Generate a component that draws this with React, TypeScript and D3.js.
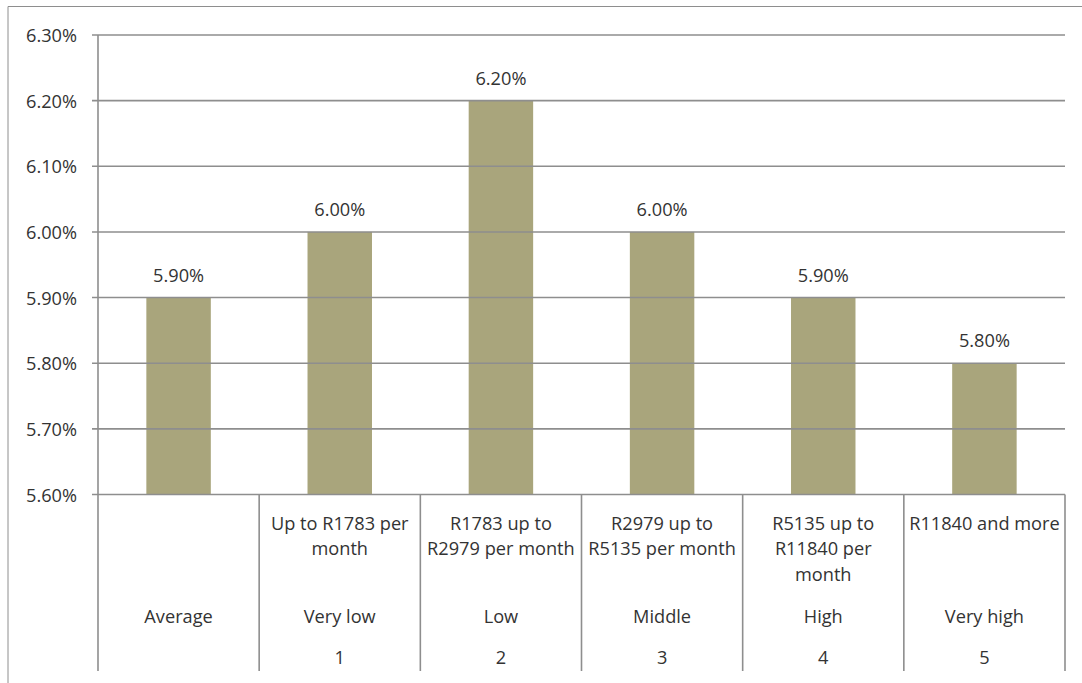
import React from "react";
import * as d3 from "d3";

const categories = ["Average", "Very low", "Low", "Middle", "High", "Very high"];
const incomeRanges: string[][] = [
  [],
  ["Up to R1783 per", "month"],
  ["R1783 up to", "R2979 per month"],
  ["R2979 up to", "R5135 per month"],
  ["R5135 up to", "R11840 per", "month"],
  ["R11840 and more"],
];
const quintiles = ["", "1", "2", "3", "4", "5"];
const values = [5.9, 6.0, 6.2, 6.0, 5.9, 5.8];
const yTicks = [5.6, 5.7, 5.8, 5.9, 6.0, 6.1, 6.2, 6.3];

const W = 1082;
const H = 683;
const FONT = "'Open Sans', 'Noto Sans', sans-serif";
const TEXT = "#333333";
const GRID = "#8e8e8e";
const BAR = "#a9a57c";

export default function App() {
  const left = 98;
  const right = 1065;
  const top = 35;
  const bottom = 494.5;
  const y = d3.scaleLinear().domain([5.6, 6.3]).range([bottom, top]);
  const x = d3.scaleBand<string>().domain(categories).range([left, right]).paddingInner(0).paddingOuter(0);
  const bw = x.bandwidth();
  const barW = bw * 0.4;
  const divBottom = 671;
  const fs = 18.2;

  return (
    <svg
      width={W}
      height={H}
      style={{ position: "absolute", left: 0, top: 0, background: "#fff" }}
      fontFamily={FONT}
    >
      <rect x={0} y={0} width={W} height={H} fill="#fff" />
      {/* outer frame */}
      <line x1={8} x2={W} y1={6.5} y2={6.5} stroke={GRID} strokeWidth={1} />
      <line x1={8} x2={8} y1={6.5} y2={H} stroke={GRID} strokeWidth={1} />

      {/* bars */}
      {categories.map((c, i) => (
        <rect
          key={c}
          x={(x(c) as number) + (bw - barW) / 2}
          y={y(values[i])}
          width={barW}
          height={bottom - y(values[i])}
          fill={BAR}
        />
      ))}

      {/* gridlines + ticks */}
      {yTicks.map((t) => (
        <g key={t}>
          <line x1={left - 6} x2={right} y1={y(t)} y2={y(t)} stroke={GRID} strokeWidth={1.6} />
          <text
            x={77}
            y={y(t)}
            textAnchor="end"
            dominantBaseline="central"
            fontSize={fs}
            fill={TEXT}
          >
            {d3.format(".2f")(t) + "%"}
          </text>
        </g>
      ))}

      {/* y axis line */}
      <line x1={left} x2={left} y1={top} y2={divBottom} stroke={GRID} strokeWidth={1.6} />

      {/* category dividers */}
      {categories.map((c) => (
        <line
          key={"d" + c}
          x1={(x(c) as number) + bw}
          x2={(x(c) as number) + bw}
          y1={bottom}
          y2={divBottom}
          stroke={GRID}
          strokeWidth={1.6}
        />
      ))}

      {/* data labels */}
      {categories.map((c, i) => (
        <text
          key={"v" + c}
          x={(x(c) as number) + bw / 2}
          y={y(values[i]) - 23}
          textAnchor="middle"
          dominantBaseline="central"
          fontSize={fs}
          fill={TEXT}
        >
          {d3.format(".2f")(values[i]) + "%"}
        </text>
      ))}

      {/* category labels */}
      {categories.map((c, i) => {
        const cx = (x(c) as number) + bw / 2;
        return (
          <g key={"l" + c}>
            {incomeRanges[i].map((ln, j) => (
              <text
                key={j}
                x={cx}
                y={522.7 + j * 25.7}
                textAnchor="middle"
                dominantBaseline="central"
                fontSize={fs}
                fill={TEXT}
              >
                {ln}
              </text>
            ))}
            <text x={cx} y={615.7} textAnchor="middle" dominantBaseline="central" fontSize={fs} fill={TEXT}>
              {c}
            </text>
            <text x={cx} y={657} textAnchor="middle" dominantBaseline="central" fontSize={fs} fill={TEXT}>
              {quintiles[i]}
            </text>
          </g>
        );
      })}
    </svg>
  );
}
